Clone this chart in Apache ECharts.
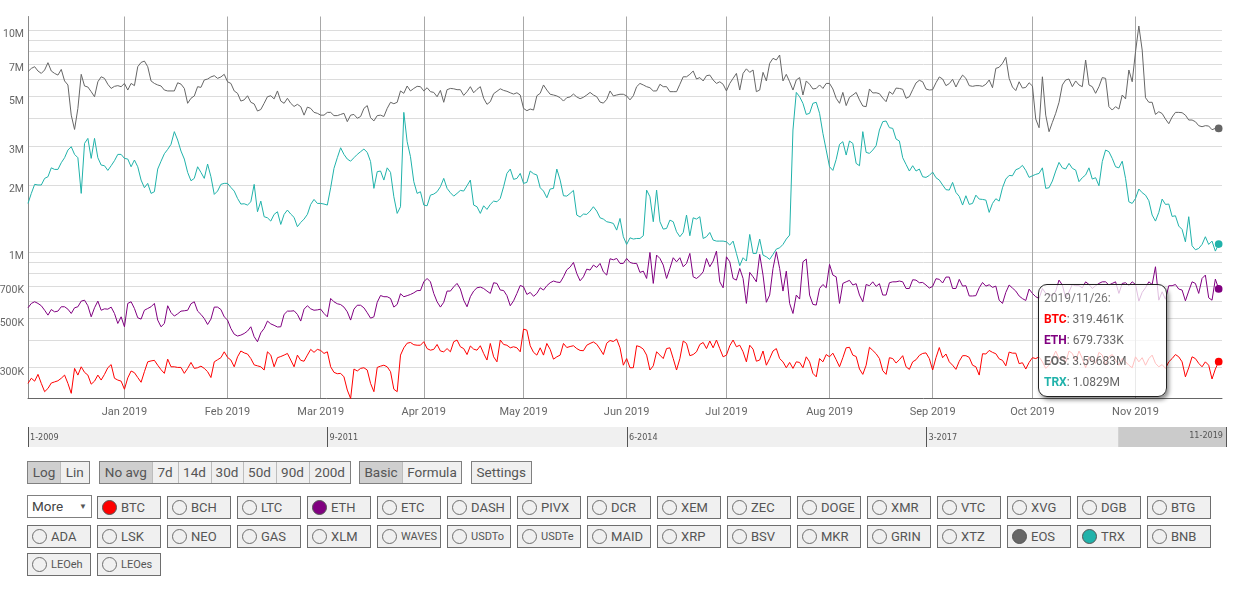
<!DOCTYPE html>
<html>
<head>
<meta charset="utf-8">
<script src="https://cdn.jsdelivr.net/npm/echarts/dist/echarts.min.js"></script>
<style>
html,body{margin:0;padding:0;background:#fff;font-family:Roboto,"Noto Sans",sans-serif;}
#chart{position:absolute;left:0;top:0;width:1235px;height:460px;}
.grp{position:absolute;display:flex;height:21px;border:1px solid #808080;background:#f0f0f0;}
.grp .b{height:21px;line-height:21px;text-align:center;font-size:13.5px;color:#555;box-sizing:border-box;}
.grp .b + .b{border-left:1px solid #bdbdbd;}
.grp .b.on{background:#cfcfcf;}
.coin{position:absolute;width:62px;height:21px;border:1px solid #6e6e6e;background:#f0f0f0;color:#555;font-size:13px;line-height:21px;}
.coin .dot{position:absolute;left:4px;top:3px;width:15px;height:15px;border-radius:50%;border:1px solid #6e6e6e;box-sizing:border-box;}
.coin .t{position:absolute;left:23px;top:0;}
.coin .t.s{font-size:11px;}
.sel{position:absolute;left:27px;top:495px;width:63px;height:21px;border:1px solid #808080;background:#fff;font-size:13.5px;color:#444;line-height:21px;}
</style>
</head>
<body>
<div id="chart"></div>
<div id="ui"></div>
<script>
// ---------- data (thousands) : daily from 2018-12-03 to 2019-11-26 ----------
const startDate = [2018, 11, 3];
const btc = [
255,269,261,280,255,234,242,256,259,262,269,278,255,230,298,278,303,286,278,253,261,278,264,280,300,310,269,264,261,240,270,290,285,271,258,288,319,322,324,308,294,283,328,303,303,301,301,283,298,317,298,300,305,298,288,271,319,326,333,354,334,
325,303,336,357,350,346,330,309,306,303,293,354,342,303,333,337,342,348,325,303,342,324,321,342,363,352,363,359,348,354,303,286,282,283,273,238,218,296,290,298,300,293,255,234,301,305,308,303,288,240,234,342,369,387,390,381,379,379,393,366,
360,363,382,357,354,366,354,393,400,373,366,344,376,364,360,377,348,325,386,336,319,400,382,379,369,373,369,354,448,443,377,352,342,369,342,386,363,328,336,342,386,370,374,377,366,359,358,379,386,392,383,364,344,387,398,394,404,369,308,330,
300,300,377,373,364,342,293,306,354,342,330,366,369,330,293,330,396,386,340,344,354,382,390,366,396,369,400,366,336,342,377,400,373,379,354,319,379,364,321,325,357,308,330,357,366,330,319,300,317,298,319,317,300,336,319,283,273,330,319,344,336,
349,326,303,333,369,371,342,337,296,280,308,371,359,347,330,291,280,333,330,315,326,340,303,295,319,326,341,348,350,330,293,333,370,333,346,319,308,295,321,340,340,334,308,303,278,347,346,359,352,347,329,324,306,353,349,349,313,316,296,317,
333,330,336,319,298,308,330,357,330,336,317,357,348,321,357,330,300,336,325,314,352,342,308,336,344,325,308,330,319,308,300,336,319,333,308,330,342,314,303,310,298,319,330,344,336,319,273,300,336,330,314,303,319,308,267,296,319.461];
const eth = [
559,585,595,585,571,545,518,549,536,540,565,565,551,527,559,565,599,605,571,509,559,599,545,553,551,563,527,475,509,459,585,595,555,504,497,545,555,565,585,492,459,475,571,532,513,525,540,542,545,583,595,540,522,500,470,497,563,563,549,509,492,
451,425,417,421,428,439,459,414,393,431,451,487,473,466,458,459,522,540,540,542,522,487,551,571,553,545,547,551,527,509,616,595,583,578,563,536,492,551,574,574,559,531,502,509,592,635,627,627,616,563,579,647,627,634,642,653,668,669,732,758,
732,649,595,563,592,665,665,695,720,679,605,565,627,665,688,693,683,665,649,725,720,672,669,634,571,601,649,705,695,642,656,630,649,688,672,703,725,738,730,727,771,829,853,895,798,740,771,835,827,871,850,886,812,785,930,920,933,886,886,933,
895,886,886,807,818,758,993,720,966,933,871,758,841,940,901,940,856,886,983,771,758,779,812,933,856,908,1007,732,688,949,901,758,745,841,758,585,807,771,732,973,785,592,638,841,1000,841,665,818,585,527,638,612,901,927,638,579,575,683,712,688,877,
785,771,585,720,732,743,708,718,638,595,712,703,732,698,718,638,638,725,732,732,738,732,683,683,748,745,725,727,708,686,698,756,751,723,769,769,683,683,751,700,703,632,632,634,688,727,700,710,691,700,605,585,656,708,686,665,632,615,603,679,
649,627,616,683,649,642,634,665,745,708,620,660,712,703,703,688,732,712,683,703,720,732,732,708,720,732,649,720,725,703,732,712,599,656,688,732,712,856,605,660,611,703,703,712,679,672,601,665,732,720,649,758,785,620,605,753,679.733];
const eos = [
6490,6710,6830,6530,6370,6600,7120,6530,6370,6260,6640,5890,5650,4130,3560,4430,6310,5590,5530,5270,5000,5840,6150,6050,5690,5450,5570,5610,5550,5740,5360,5740,5610,6830,7140,7240,6830,5890,5740,5650,5590,5360,5310,5310,5310,5780,5700,5450,4670,4920,5040,5550,5510,5950,6010,6140,6220,6050,6140,6310,5840,
5740,5310,5180,4780,4840,5050,4720,4640,4310,4380,4670,5000,5050,4890,5310,4780,4670,4920,4670,4520,4620,4510,4130,4490,4430,4250,4210,4130,4130,4250,4250,4110,4110,4160,4210,3860,4130,4160,4000,4070,4430,4560,4020,3890,4110,4130,4070,4430,4720,4650,4720,5310,5180,5590,5310,5450,5570,5550,5310,5490,
5270,5230,5000,5340,4720,5380,5450,5430,5380,5380,5070,5270,5550,5210,5400,5550,4920,4620,4750,5160,5290,5430,5340,5290,5210,5140,5210,5090,4430,4325,4400,4355,5050,5180,5650,5360,5130,5090,5040,4950,4780,4950,4990,5140,4990,4900,4970,5090,5230,5090,5000,4730,4680,4865,5310,5040,5090,5130,5130,5040,
4840,5050,5550,5740,5650,5550,5490,5310,5310,5690,5550,5550,5270,5270,5270,5690,6150,6150,6310,6530,6010,6100,5890,6220,6260,5950,5740,5840,5690,5310,5740,6050,6370,5360,6370,6680,6440,6600,5270,5360,6440,5890,7070,7450,7320,7710,5890,6310,5840,5360,5950,6100,5090,5890,5690,5420,5450,5650,5450,5740,5740,
5420,4920,4670,5230,4560,4970,5090,5230,4840,4540,4510,5420,5200,5210,5160,4930,4750,5270,5130,5470,5450,5400,4920,5000,5380,5770,5930,5840,5420,5360,5380,5780,6140,6010,5610,5730,5990,5530,5930,6260,6050,5610,5570,5610,5610,5570,5690,5950,5490,6710,6790,7070,7530,6050,5530,5330,5840,5470,5510,5780,
5590,3967,3625,6150,4130,3478,3832,4210,4720,5650,5950,6010,5550,5890,5650,5550,7320,5650,5550,5180,5550,6100,6050,4510,4355,4510,4400,5090,4890,6600,5840,7980,10420,8120,4950,4720,4720,4160,4280,4200,3967,3779,4050,4250,4250,4236,4130,3926,3926,3858,3702,3663,3702,3689,3550,3600,3596.83];
const trx = [
1652,1833,2013,2000,2000,2142,2179,2390,2351,2351,2520,2655,2875,2976,2748,2655,1833,3080,3245,2636,3245,2655,2460,2443,2327,2443,2574,2748,2748,2636,2618,2417,2592,2417,2105,1944,2034,1833,1865,2360,2560,2767,2895,3050,3480,3190,2845,2618,2280,2090,2142,2417,2280,2142,2486,2179,1814,1878,2013,2034,2034,
1950,1878,1740,1641,1646,1624,1680,2013,1515,1692,1439,1423,1375,1474,1515,1328,1474,1542,1479,1429,1297,1356,1404,1474,1635,1722,1652,1652,1641,1624,1944,2377,2655,2944,2748,2618,2560,2655,2748,2826,2904,2806,2550,1931,2297,2312,2105,2390,2280,1770,1489,1596,4250,3135,2683,2070,1833,1865,1624,1612,
1800,1820,1865,1965,2142,1931,1846,1782,1833,1891,1878,1985,2105,1624,1596,1489,1612,1552,1635,1692,1680,1740,1965,2256,2360,2120,2142,2256,2034,2055,2312,2248,2220,1944,1878,1752,1918,1931,2360,2105,1789,1782,1833,1891,1464,1434,1479,1474,1526,1596,1526,1423,1404,1366,1356,1342,1252,1413,1169,1079,
1156,1141,1148,1148,1181,1897,1770,1366,1897,1366,1265,1274,1389,1366,1231,1169,1222,1464,1181,1423,1404,1439,1148,1169,1222,1129,1117,1117,1117,1109,1072,1117,983,865,940,908,1197,983,983,1141,966,949,924,973,1028,1042,1079,1141,1189,3540,5230,5000,4670,4160,4210,4670,4720,4210,3420,2875,2417,
2327,2609,3050,3135,2729,3157,3080,2503,2443,3480,2806,2777,2875,3007,3540,3860,3886,3626,3600,3223,3157,2655,2477,2312,2443,2312,2360,2179,2164,2209,2287,2157,2105,2000,1905,1897,2055,1852,1777,1624,1789,1635,1652,1800,1728,1722,1710,1505,1652,1734,1692,1944,2127,2209,2201,2343,2377,2452,2327,2164,
2201,2233,2256,2390,1931,1944,2084,2312,2529,2390,2360,2503,2377,2335,2070,2157,2220,2390,2127,2157,1985,2550,2875,2826,2636,2417,2390,2560,2142,1680,1652,1740,1918,1846,1800,1699,1464,1375,1505,1728,1635,1641,1443,1453,1306,1261,1109,1439,1064,1021,1035,1079,1169,1079,1117,1007,1082.9];

const seriesNames = ['BTC', 'ETH', 'EOS', 'TRX'];
const seriesColors = ['#ff0000', '#800080', '#666666', '#20b2aa'];
const yGridValues = [300,400,500,600,700,800,900,1000,2000,3000,4000,5000,6000,7000,8000,9000,10000];
const yLabelValues = [300,500,700,1000,2000,3000,5000,7000,10000];
const monthNames = ['Jan','Feb','Mar','Apr','May','Jun','Jul','Aug','Sep','Oct','Nov','Dec'];
const monthTickDates = [[2019,0,1],[2019,1,1],[2019,2,1],[2019,3,1],[2019,4,1],[2019,5,1],[2019,6,1],[2019,7,1],[2019,8,1],[2019,9,1],[2019,10,1]];
const xRange = [[2018,11,3],[2019,10,27]];
const navRange = [[2009,0,3],[2019,10,26]];

// ---------- controls (HTML) ----------
const ui = document.getElementById('ui');
const btnGroups = [
  { left: 27, items: [['Log', 32, true], ['Lin', 28.5, false]] },
  { left: 99, items: [['No avg', 51.5, true], ['7d', 26, false], ['14d', 33, false], ['30d', 32, false], ['50d', 33, false], ['90d', 33, false], ['200d', 41.5, false]] },
  { left: 359, items: [['Basic', 42, true], ['Formula', 59, false]] },
  { left: 471, items: [['Settings', 58.5, false]] }
];
let html = '';
btnGroups.forEach(g => {
  html += '<div class="grp" style="left:' + g.left + 'px;top:460.5px">';
  g.items.forEach(it => { html += '<div class="b' + (it[2] ? ' on' : '') + '" style="width:' + it[1] + 'px">' + it[0] + '</div>'; });
  html += '</div>';
});
html += '<div class="sel"><span style="position:absolute;left:4px">More</span><span style="position:absolute;left:51px;font-size:8px;top:0;color:#555">&#9660;</span></div>';
const coinRows = [
  { top: 495.5, left: 97, names: ['BTC','BCH','LTC','ETH','ETC','DASH','PIVX','DCR','XEM','ZEC','DOGE','XMR','VTC','XVG','DGB','BTG'] },
  { top: 524.5, left: 27, names: ['ADA','LSK','NEO','GAS','XLM','WAVES','USDTo','USDTe','MAID','XRP','BSV','MKR','GRIN','XTZ','EOS','TRX','BNB'] },
  { top: 553, left: 27, names: ['LEOeh','LEOes'] }
];
const smallNames = ['WAVES','USDTo','USDTe','LEOeh','LEOes'];
coinRows.forEach(r => {
  r.names.forEach((n, i) => {
    const si = seriesNames.indexOf(n);
    const dotStyle = si >= 0 ? 'background:' + seriesColors[si] + ';border-color:#555;' : '';
    html += '<div class="coin" style="left:' + (r.left + i * 70) + 'px;top:' + r.top + 'px"><span class="dot" style="' + dotStyle + '"></span><span class="t' + (smallNames.indexOf(n) >= 0 ? ' s' : '') + '">' + n + '</span></div>';
  });
});
ui.innerHTML = html;

// ---------- chart ----------
const toTime = a => new Date(a[0], a[1], a[2]).getTime();
const dates = btc.map((_, i) => new Date(startDate[0], startDate[1], startDate[2] + i).getTime());
const monthTicks = monthTickDates.map(toTime);
const navStart = toTime(navRange[0]), navEnd = toTime(navRange[1]);
const navTicks = [0,1,2,3,4].map(k => navStart + k * (navEnd - navStart) / 4);

function toPairs(vals) {
  return vals.map((v, i) => {
    const p = [dates[i], v];
    if (i === vals.length - 1) return { value: p, symbol: 'circle', symbolSize: 7 };
    return p;
  });
}
const fmtVal = v => v >= 1000 ? parseFloat((v / 1000).toPrecision(6)) + 'M' : parseFloat(v.toPrecision(6)) + 'K';
const fmtAxis = v => v >= 1000 ? (v / 1000) + 'M' : v + 'K';
const pad = n => (n < 10 ? '0' : '') + n;
const navFmt = v => { const d = new Date(v); return (d.getMonth() + 1) + '-' + d.getFullYear(); };
const navFont = '"DejaVu Sans Condensed", "Roboto", sans-serif';

const chart = echarts.init(document.getElementById('chart'));
const allData = [btc, eth, eos, trx];
const lineSeries = allData.map((vals, k) => ({
  name: seriesNames[k], type: 'line', xAxisIndex: 0, yAxisIndex: 0,
  data: toPairs(vals), symbol: 'none', showSymbol: true, showAllSymbol: true,
  lineStyle: { width: 1, color: seriesColors[k] }, itemStyle: { color: seriesColors[k] },
  emphasis: { disabled: true }, silent: true
}));

const option = {
  animation: false,
  textStyle: { fontFamily: 'Roboto' },
  grid: [
    { left: 28, right: 13, top: 16.5, height: 382, outerBoundsMode: 'none', containLabel: false },
    { left: 28, right: 9, top: 427, height: 20, show: true, backgroundColor: '#f0f0f0', borderWidth: 0, outerBoundsMode: 'none', containLabel: false }
  ],
  xAxis: [
    {
      type: 'value', gridIndex: 0, min: toTime(xRange[0]), max: toTime(xRange[1]),
      axisLine: { show: true, onZero: false, lineStyle: { color: '#666', width: 1 } },
      axisTick: { show: false, customValues: monthTicks },
      splitLine: { show: true, lineStyle: { color: '#a8a8a8', width: 1 } },
      axisLabel: {
        customValues: monthTicks, color: '#666', fontSize: 11, margin: 8, fontFamily: 'Roboto',
        formatter: v => { const d = new Date(v); return monthNames[d.getMonth()] + ' ' + d.getFullYear(); }
      }
    },
    {
      type: 'value', gridIndex: 1, min: navStart, max: navEnd, z: 5,
      axisLine: { show: false, onZero: false },
      axisTick: { show: true, inside: true, length: 20, customValues: navTicks, lineStyle: { color: '#555', width: 1 } },
      splitLine: { show: false },
      axisLabel: {
        customValues: navTicks.slice(0, 4), inside: true, align: 'left', verticalAlign: 'middle', margin: 9,
        padding: [0, 0, 0, 2], color: '#555', fontSize: 9, fontFamily: navFont,
        showMinLabel: true, showMaxLabel: true, formatter: navFmt
      }
    },
    {
      type: 'value', gridIndex: 1, min: navStart, max: navEnd, z: 5,
      axisLine: { show: false, onZero: false },
      axisTick: { show: false, customValues: navTicks.slice(4) },
      splitLine: { show: false },
      axisLabel: {
        customValues: navTicks.slice(4), inside: true, align: 'right', verticalAlign: 'middle', margin: 9,
        padding: [0, 3, 0, 0], color: '#555', fontSize: 9, fontFamily: navFont,
        showMinLabel: true, showMaxLabel: true, formatter: navFmt
      }
    }
  ],
  yAxis: [
    {
      type: 'log', logBase: 10, gridIndex: 0, min: 218, max: 11500,
      axisLine: { show: true, lineStyle: { color: '#8a8a8a', width: 1 } },
      axisTick: { show: false, customValues: yGridValues },
      splitLine: { show: true, lineStyle: { color: '#dcdcdc', width: 1 } },
      axisLabel: { customValues: yLabelValues, formatter: fmtAxis, color: '#666', fontSize: 10.5, margin: 4, verticalAlign: 'top', lineHeight: 9, fontFamily: 'Roboto' }
    },
    { type: 'value', gridIndex: 1, min: 0, max: 1, show: false }
  ],
  tooltip: {
    trigger: 'axis', triggerOn: 'none', alwaysShowContent: true, transitionDuration: 0,
    axisPointer: { type: 'line', lineStyle: { color: 'rgba(0,0,0,0)', width: 0 }, label: { show: false } },
    position: [1038, 284],
    backgroundColor: 'rgba(255,255,255,0.75)', borderColor: '#222', borderWidth: 1.5, padding: [3, 0, 3, 5],
    textStyle: { fontSize: 12, color: '#666', fontFamily: 'Roboto' },
    extraCssText: 'border-radius:9px;box-shadow:2px 3px 4px rgba(0,0,0,0.45);width:122px;line-height:21px;',
    formatter: params => {
      const d = new Date(params[0].value[0]);
      let s = '<div style="color:#777;line-height:21px">' + d.getFullYear() + '/' + pad(d.getMonth() + 1) + '/' + pad(d.getDate()) + ':</div>';
      params.forEach(p => {
        s += '<div style="line-height:21px;white-space:nowrap"><b style="color:' + seriesColors[p.seriesIndex] + '">' + p.seriesName + '</b>: ' + fmtVal(p.value[1]) + '</div>';
      });
      return s;
    }
  },
  series: lineSeries.concat([{
    name: 'nav', type: 'line', xAxisIndex: 1, yAxisIndex: 1, silent: true,
    data: [[navStart, 0], [navEnd, 0]], symbol: 'none', lineStyle: { opacity: 0 }, tooltip: { show: false },
    markArea: { silent: true, itemStyle: { color: '#cbcbcb' }, data: [[{ xAxis: dates[0] }, { xAxis: dates[dates.length - 1] }]] }
  }])
};
chart.setOption(option);
chart.dispatchAction({ type: 'showTip', seriesIndex: 0, dataIndex: btc.length - 1 });
</script>
</body>
</html>
